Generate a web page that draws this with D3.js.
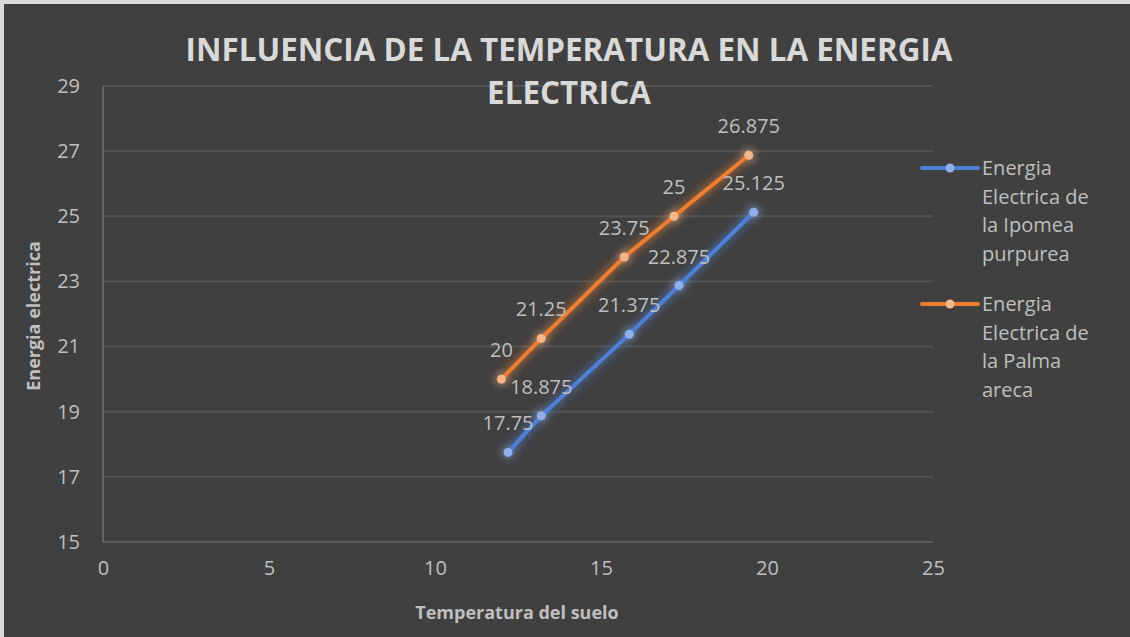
<!DOCTYPE html>
<meta charset="utf-8">
<style>
body { margin: 0; background: #d9d9d9; }
svg { display: block; }
text { font-family: "Open Sans", sans-serif; }
</style>
<body>
<script src="https://d3js.org/d3.v7.min.js"></script>
<script>

// values
var ipomeaTemp   = [12.2, 13.2, 15.85, 17.35, 19.6];
var ipomeaEnergy = [17.75, 18.875, 21.375, 22.875, 25.125];
var palmaTemp    = [12.0, 13.2, 15.7, 17.2, 19.45];
var palmaEnergy  = [20, 21.25, 23.75, 25, 26.875];
var seriesNames  = ["Energia Electrica de la Ipomea purpurea", "Energia Electrica de la Palma areca"];
var xTicks = [0, 5, 10, 15, 20, 25];
var yTicks = [15, 17, 19, 21, 23, 25, 27, 29];

var W = 1130, H = 637;
var margin = {top: 86, right: 197, bottom: 95, left: 103};

var svg = d3.select("body").append("svg")
    .attr("width", W)
    .attr("height", H);

svg.append("rect")
    .attr("x", 4).attr("y", 4)
    .attr("width", W - 4).attr("height", H - 4)
    .attr("fill", "#404040");

var defs = svg.append("defs");
var glow = defs.append("filter").attr("id", "glow")
    .attr("x", "-20%").attr("y", "-20%").attr("width", "140%").attr("height", "140%");
glow.append("feGaussianBlur").attr("in", "SourceGraphic").attr("stdDeviation", 5).attr("result", "b");
glow.append("feComponentTransfer").attr("in", "b").attr("result", "b2")
  .append("feFuncA").attr("type", "linear").attr("slope", 1.1);
var fm = glow.append("feMerge");
fm.append("feMergeNode").attr("in", "b2");
fm.append("feMergeNode").attr("in", "SourceGraphic");

var x = d3.scaleLinear().domain([0, 25]).range([margin.left, W - margin.right]);
var y = d3.scaleLinear().domain([15, 29]).range([H - margin.bottom, margin.top]);

// gridlines
svg.append("g")
    .selectAll("line")
    .data(yTicks)
  .enter().append("line")
    .attr("x1", x(0)).attr("x2", x(25))
    .attr("y1", function(d) { return y(d); })
    .attr("y2", function(d) { return y(d); })
    .attr("stroke", function(d) { return d == 15 ? "#5a5a5a" : "#535353"; })
    .attr("stroke-width", 2);

// y axis line
svg.append("line")
    .attr("x1", x(0)).attr("x2", x(0))
    .attr("y1", y(29)).attr("y2", y(15))
    .attr("stroke", "#7f7f7f").attr("stroke-width", 1.2);

var yAxis = svg.append("g")
    .attr("transform", "translate(" + (x(0) - 23) + ",0)")
    .call(d3.axisLeft(y).tickValues(yTicks).tickSize(0).tickPadding(0));
yAxis.select(".domain").remove();
yAxis.selectAll("text")
    .attr("fill", "#bfbfbf")
    .style("font-size", "20px")
    .style("font-family", "'Open Sans', sans-serif");

var xAxis = svg.append("g")
    .attr("transform", "translate(0," + (y(15) + 19) + ")")
    .call(d3.axisBottom(x).tickValues(xTicks).tickSize(0).tickPadding(0));
xAxis.select(".domain").remove();
xAxis.selectAll("text")
    .attr("fill", "#bfbfbf")
    .style("font-size", "20px")
    .style("font-family", "'Open Sans', sans-serif");

// series
var series = [
  {name: seriesNames[0], xs: ipomeaTemp, ys: ipomeaEnergy, color: "#4f7fd6", marker: "#8fb0ec"},
  {name: seriesNames[1], xs: palmaTemp, ys: palmaEnergy, color: "#ed7d31", marker: "#f6b68a"}
];

var line = d3.line()
    .x(function(d) { return x(d[0]); })
    .y(function(d) { return y(d[1]); });

series.forEach(function(s) {
    var pts = s.xs.map(function(v, i) { return [v, s.ys[i]]; });
    var g = svg.append("g").attr("filter", "url(#glow)");
    g.append("path")
        .datum(pts)
        .attr("d", line)
        .attr("fill", "none")
        .attr("stroke", s.color)
        .attr("stroke-width", 4)
        .attr("stroke-linecap", "round");
    g.selectAll("circle")
        .data(pts)
      .enter().append("circle")
        .attr("cx", function(d) { return x(d[0]); })
        .attr("cy", function(d) { return y(d[1]); })
        .attr("r", 4.5)
        .attr("fill", s.marker);
});

// data labels
series.forEach(function(s) {
    svg.append("g")
        .selectAll("text")
        .data(s.ys)
      .enter().append("text")
        .attr("x", function(d, i) { return x(s.xs[i]); })
        .attr("y", function(d) { return y(d) - 22; })
        .attr("text-anchor", "middle")
        .attr("fill", "#bfbfbf")
        .style("font-size", "20px")
        .text(function(d) { return d; });
});

// title
var title = svg.append("text")
    .attr("text-anchor", "middle")
    .attr("fill", "#d9d9d9")
    .style("font-size", "31.4px")
    .style("font-weight", "bold");
title.append("tspan").attr("x", 569).attr("y", 61).text("INFLUENCIA DE LA TEMPERATURA EN LA ENERGIA");
title.append("tspan").attr("x", 569).attr("y", 104).text("ELECTRICA");

// axis titles
svg.append("text")
    .attr("x", 517).attr("y", 619)
    .attr("text-anchor", "middle")
    .attr("fill", "#bfbfbf")
    .style("font-size", "18px")
    .style("font-weight", "bold")
    .text("Temperatura del suelo");

svg.append("text")
    .attr("transform", "translate(40,316) rotate(-90)")
    .attr("text-anchor", "middle")
    .attr("fill", "#bfbfbf")
    .style("font-size", "18px")
    .style("font-weight", "bold")
    .text("Energia electrica");

// legend
var legendLines = [
  ["Energia", "Electrica de", "la Ipomea", "purpurea"],
  ["Energia", "Electrica de", "la Palma", "areca"]
];
var legend = svg.append("g");
series.forEach(function(s, k) {
    var top = 175 + k * 136;
    var item = legend.append("g");
    item.append("line")
        .attr("x1", 922).attr("x2", 978)
        .attr("y1", top - 7).attr("y2", top - 7)
        .attr("stroke", s.color).attr("stroke-width", 4)
        .attr("stroke-linecap", "round");
    item.append("circle")
        .attr("cx", 950).attr("cy", top - 7).attr("r", 4.5)
        .attr("fill", s.marker);
    var t = item.append("text")
        .attr("fill", "#bfbfbf")
        .style("font-size", "20px");
    legendLines[k].forEach(function(l, i) {
        t.append("tspan").attr("x", 982).attr("y", top + i * 28.7).text(l);
    });
});

</script>
